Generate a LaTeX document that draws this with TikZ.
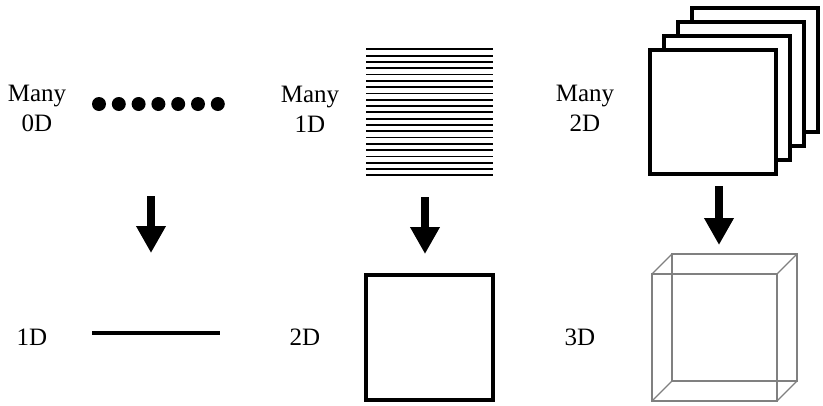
\documentclass[tikz,border=0pt]{standalone}
\usepackage{fontspec}
\setmainfont{Liberation Serif}
\usepackage{tikz}
\usetikzlibrary{arrows.meta,positioning}

\begin{document}
\begin{tikzpicture}[x=1pt, y=-1pt, font=\fontsize{25}{30}\selectfont,
  txt/.style={align=center, inner sep=0pt},
  bigarrow/.style={line width=8pt, -{Triangle[width=28pt,length=27pt]}},
  sheet/.style={draw, line width=3.5pt, fill=white},
  edge/.style={draw=gray, line width=1.1pt}]
\useasboundingbox (0,0) rectangle (823,405);

% top row
\node[txt] (M0) at (37,108) {Many\\0D};
\node[txt] (M1) at (310,109) {Many\\1D};
\node[txt] (M2) at (585,108) {Many\\2D};
\foreach \i in {0,...,6}
  \fill (99+19.8*\i,104) circle (7pt);
\foreach \i in {0,...,20}
  \draw[line width=1.8pt] (366,49.3+6.3*\i) -- (493,49.3+6.3*\i);
\foreach \k in {3,2,1,0}
  \draw[sheet] (650+14*\k,50-14*\k) rectangle (776+14*\k,174-14*\k);

% arrows
\coordinate (A0) at (151,196);
\coordinate (B0) at (151,253);
\coordinate (A1) at (425,197);
\coordinate (B1) at (425,254);
\coordinate (A2) at (719,186);
\coordinate (B2) at (719,245);
\draw[bigarrow] (A0) -- (B0);
\draw[bigarrow] (A1) -- (B1);
\draw[bigarrow] (A2) -- (B2);

% bottom row
\node[txt] (D1) at (32,337) {1D};
\node[txt] (D2) at (305,337) {2D};
\node[txt] (D3) at (580,337) {3D};
\draw[line width=3.5pt] (92,333) -- (220,333);
\draw[line width=3.5pt] (366,275) rectangle (493,400);
\draw[edge] (672,254) rectangle (797,381);
\draw[edge] (652,274) rectangle (777,401);
\draw[edge] (652,274) -- (672,254) (777,274) -- (797,254)
  (652,401) -- (672,381) (777,401) -- (797,381);
\end{tikzpicture}
\end{document}
